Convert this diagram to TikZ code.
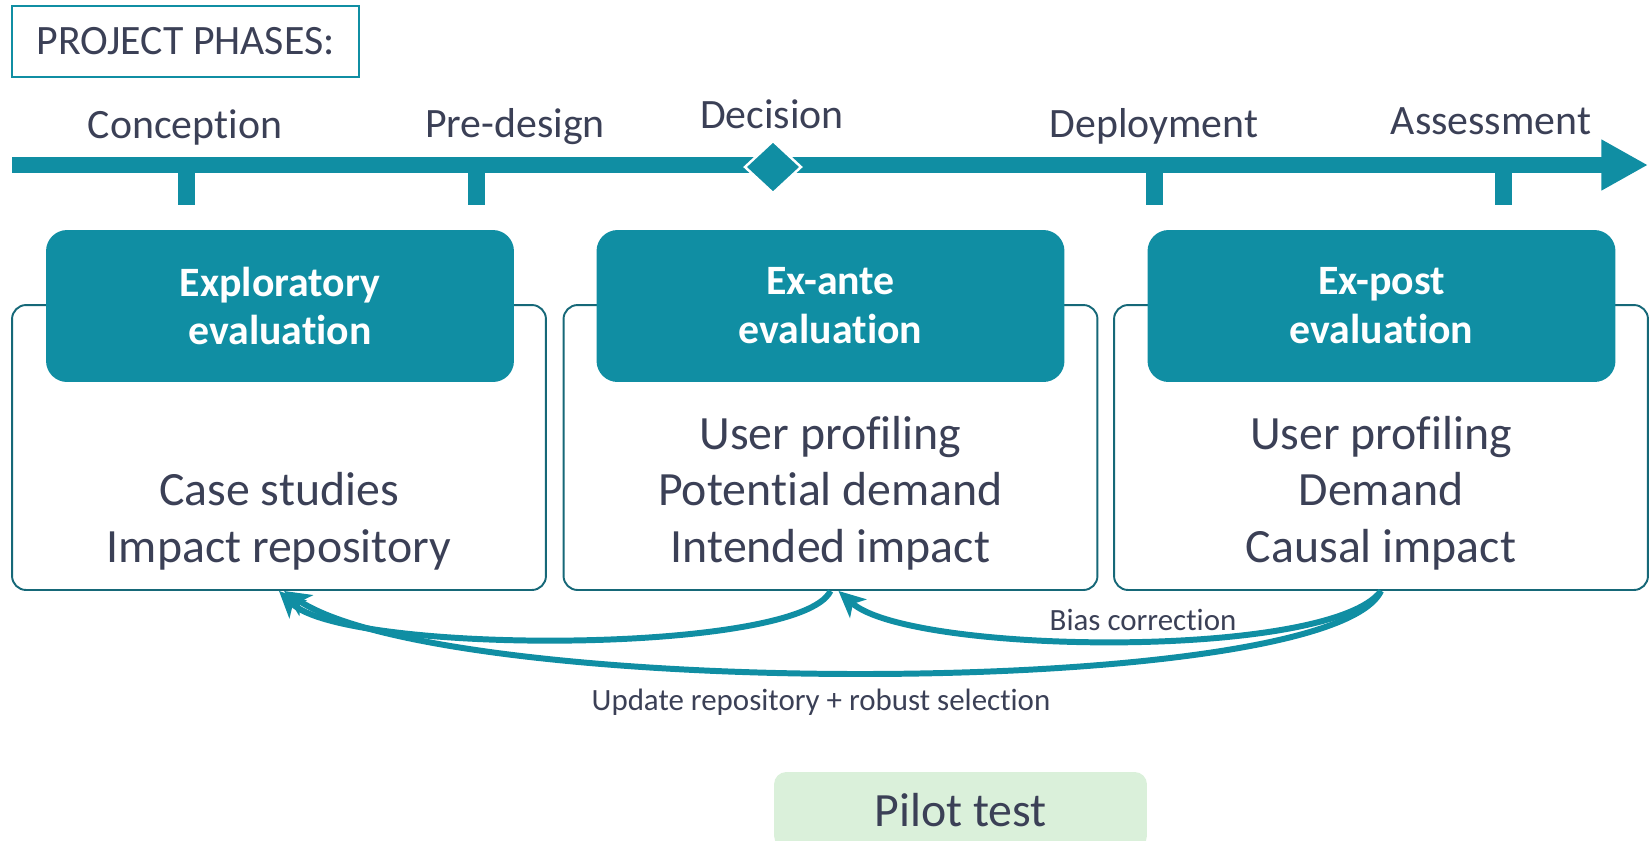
\documentclass[tikz,border=0pt]{standalone}
\usepackage{fontspec}
\setmainfont{Carlito}[Ligatures=NoCommon, RawFeature={-calt;-dlig;-clig}]
\usetikzlibrary{arrows.meta}
\definecolor{teal1}{RGB}{16,142,163}
\definecolor{tealdark}{RGB}{22,104,120}
\definecolor{ink}{RGB}{59,64,86}
\definecolor{pilotgreen}{RGB}{218,240,218}
\tikzset{
  phase/.style={anchor=base, text=ink, inner sep=0pt, font=\fontsize{23.8}{27.8}\selectfont},
  evalbox/.style={draw=tealdark, line width=1.1pt, fill=white, rounded corners=8pt,
    minimum width=10.68cm, minimum height=5.7cm},
  headbox/.style={fill=teal1, rounded corners=12pt, minimum width=9.36cm, minimum height=3.04cm,
    align=center, text=white, font=\fontsize{23.8}{27.8}\selectfont\bfseries},
  bodytext/.style={align=center, text=ink, font=\fontsize{27.2}{32.3}\selectfont},
  note/.style={text=ink, inner sep=0pt, font=\fontsize{17.6}{20}\selectfont},
  feedback/.style={draw=teal1, line width=3.4pt, -{Stealth[length=15pt,width=14pt,inset=4pt]}}
}
\begin{document}
\begin{tikzpicture}[x=0.02cm, y=-0.02cm]
    \useasboundingbox (0,0) rectangle (1650,840);
    \node[draw=teal1, line width=1.1pt, minimum width=6.94cm, minimum height=1.42cm, text=ink,
      font=\fontsize{23.8}{27.8}\selectfont] (title) at (185.5,41.5) {PROJECT PHASES:};
    %timeline
    \draw[teal1, line width=9.07pt, -{Triangle[length=26.6pt,width=27.2pt]}] (12,165) -- (1648,165);
    \def\ticks{186,476,1154,1503}
    \foreach \t in \ticks {\fill[teal1] ({\t-8.5},160) rectangle ({\t+8.5},205);}
    \filldraw[fill=teal1, draw=white, line width=1.4pt] (745,167) -- (773,141) -- (801,167) -- (773,193) -- cycle;
    \def\phases{185/138/Conception,515/137/Pre-design,772/128/Decision,1154/137/Deployment,1491/134/Assessment}
    \foreach \x/\y/\name [count=\i from 1] in \phases {\node[phase] (ph\i) at (\x,\y) {\name};}
    %evaluation boxes
    \node[evalbox] (explo) at (279,447.5) {};
    \node[evalbox] (exante) at (830.5,447.5) {};
    \node[evalbox] (expost) at (1381,447.5) {};
    \node[headbox] (h1) at (280,306) {Exploratory\\evaluation};
    \node[headbox] (h2) at (830.5,306) {Ex-ante\\evaluation};
    \node[headbox] (h3) at (1381.5,306) {Ex-post\\evaluation};
    \node[bodytext] (b1) at (279,521) {Case studies\\Impact repository};
    \node[bodytext] (b2) at (830.5,493) {User profiling\\Potential demand\\Intended impact};
    \node[bodytext] (b3) at (1381,493) {User profiling\\Demand\\Causal impact};
    %feedback loops
    \draw[feedback] (exante.south) .. controls (800,655) and (345,655) .. (explo.south);
    \draw[feedback] (expost.south) .. controls (1330,660) and (910,655) .. ([xshift=0.16cm]exante.south);
    \draw[feedback] (expost.south) .. controls (1330,700) and (450,700) .. ([xshift=0.1cm]explo.south);
    \node[note] (bias) at (1143,620) {Bias correction};
    \node[note] (update) at (821,702) {Update repository + robust selection};
    \node[fill=pilotgreen, rounded corners=7pt, minimum width=7.46cm, minimum height=1.52cm, text=ink,
      font=\fontsize{27.2}{32.3}\selectfont] (pilot) at (960.5,810) {Pilot test};
\end{tikzpicture}
\end{document}
